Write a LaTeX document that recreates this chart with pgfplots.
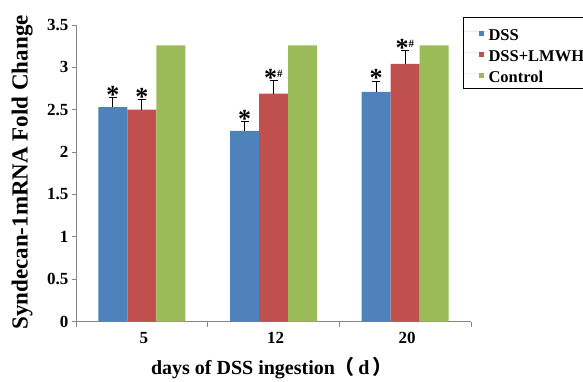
\documentclass[border=0pt]{standalone}
\usepackage{fontspec}
\setmainfont{Liberation Serif}
\newfontfamily\cjk{Noto Sans CJK SC}
\usepackage{pgfplots}
\pgfplotsset{compat=1.18}
\definecolor{dssblue}{HTML}{4F81BD}
\definecolor{lmwhred}{HTML}{C0504D}
\definecolor{ctrlgreen}{HTML}{9BBB59}
\definecolor{axgray}{HTML}{878787}
\newcommand\st{{\bfseries\fontsize{26}{26}\selectfont *}}
\newcommand\sth{{\bfseries\fontsize{26}{26}\selectfont *}\rlap{\raisebox{9pt}{\bfseries\fontsize{11}{11}\selectfont\#}}}
\newcommand\legimg[1]{\path (-15pt,0) -- (9pt,0); \fill[#1] (0pt,-4.5pt) rectangle (5pt,0.5pt);}
\begin{document}
\begin{tikzpicture}
\begin{axis}[
  at={(76pt,59.4pt)}, anchor=south west,
  width=395pt, height=296.6pt, scale only axis,
  ybar=0pt, bar width=29pt,
  xmin=-0.5, xmax=2.5, ymin=0, ymax=3.5,
  xtick={0,1,2}, xticklabels={5,12,20},
  minor xtick={-0.5,0.5,1.5,2.5},
  ytick={0,0.5,1,1.5,2,2.5,3,3.5},
  axis x line*=bottom, axis y line*=left,
  axis line style={axgray, line width=0.8pt, -},
  tick align=outside,
  major tick length=4pt, minor tick length=5pt,
  major x tick style={draw=none},
  minor x tick style={axgray, line width=0.8pt},
  ytick style={axgray, line width=0.8pt},
  tick label style={font=\bfseries\fontsize{17}{17}\selectfont, black},
  xticklabel style={yshift=-3pt, xshift=2pt},
  /pgf/number format/assume math mode=true,
  xlabel={days of DSS ingestion{\cjk （}\,d\,{\cjk ）}},
  ylabel={Syndecan-1mRNA Fold Change},
  xlabel style={font=\bfseries\fontsize{20}{20}\selectfont, at={(axis description cs:0.496,-0.180)}, anchor=base},
  ylabel style={font=\bfseries\fontsize{23}{23}\selectfont, at={(axis description cs:-0.136,0.503)}, anchor=center, rotate=0},
  legend style={at={(axis description cs:0.98,1.027)}, anchor=north west, draw=black, line width=0.8pt, fill=white,
    font=\bfseries\fontsize{16.5}{18}\selectfont, row sep=2pt, inner xsep=0pt, inner ysep=5pt,
    nodes={inner sep=1pt, text height=17pt, text depth=0pt}},
  legend cell align=left,
  error bars/y dir=plus, error bars/y explicit,
  error bars/error bar style={black, line width=0.8pt},
  error bars/error mark options={black, line width=0.8pt, mark size=4pt, rotate=90},
]
\addplot[fill=dssblue, draw=none, legend image code/.code={\legimg{dssblue}}]
  coordinates {(0,2.53) +- (0,0.12) (1,2.25) +- (0,0.11) (2,2.71) +- (0,0.13)};
\addplot[fill=lmwhred, draw=none, legend image code/.code={\legimg{lmwhred}}]
  coordinates {(0,2.50) +- (0,0.12) (1,2.69) +- (0,0.16) (2,3.04) +- (0,0.16)};
\addplot[fill=ctrlgreen, draw=none, legend image code/.code={\legimg{ctrlgreen}}]
  coordinates {(0,3.26) (1,3.26) (2,3.26)};
\legend{DSS, DSS+LMWH, Control}
\node[anchor=base, inner sep=0pt, xshift=-29pt, yshift=-6pt] at (axis cs:0,2.65) {\st};
\node[anchor=base, inner sep=0pt, yshift=-6pt] at (axis cs:0,2.62) {\st};
\node[anchor=base, inner sep=0pt, xshift=-29pt, yshift=-6pt] at (axis cs:1,2.36) {\st};
\node[anchor=base, inner sep=0pt, xshift=-3pt, yshift=-6pt] at (axis cs:1,2.85) {\sth};
\node[anchor=base, inner sep=0pt, xshift=-29pt, yshift=-6pt] at (axis cs:2,2.84) {\st};
\node[anchor=base, inner sep=0pt, xshift=-3pt, yshift=-6pt] at (axis cs:2,3.20) {\sth};
\end{axis}
\pgfresetboundingbox
\useasboundingbox (0,0) rectangle (583pt,381pt);
\end{tikzpicture}
\end{document}
